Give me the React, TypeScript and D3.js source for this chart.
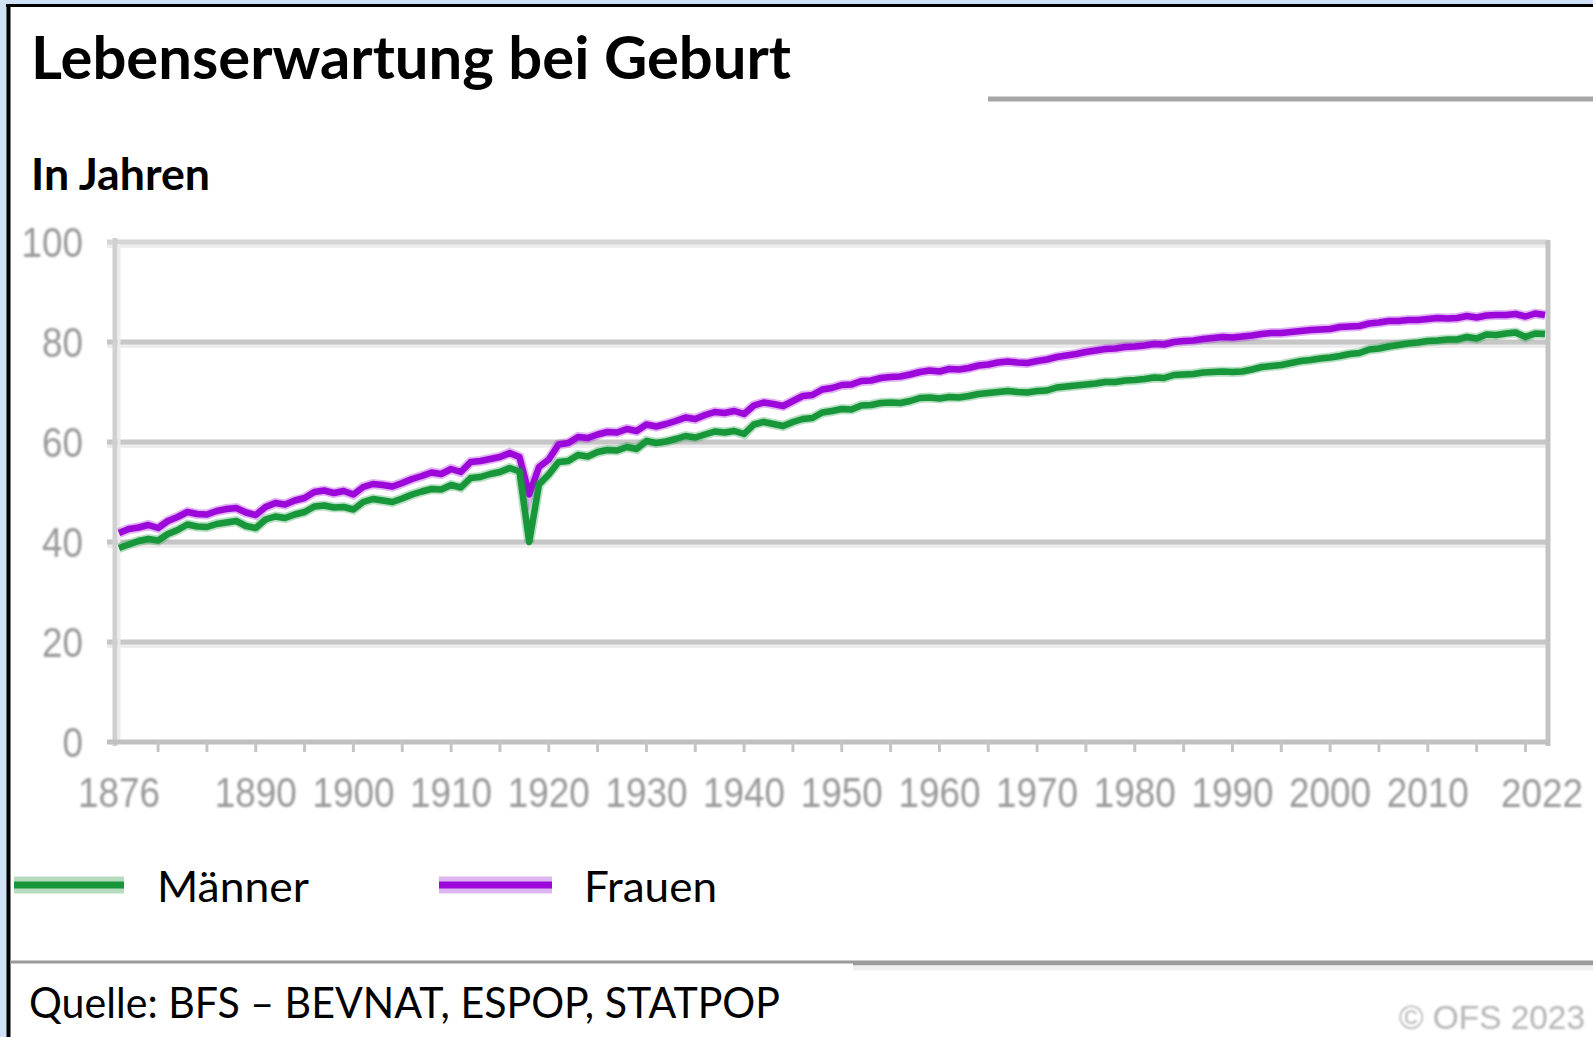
import React from 'react';
import * as d3 from 'd3';

const W = 1593;
const H = 1037;

// Lebenserwartung bei Geburt, Schweiz, 1876–2022
const firstYear = 1876;
const maenner = [
  38.8, 39.5, 40.2, 40.6, 40.3, 41.6, 42.4, 43.5, 43.1, 43.0,
  43.6, 43.9, 44.2, 43.2, 42.8, 44.5, 45.1, 44.8, 45.5, 46.0,
  47.1, 47.3, 46.9, 47.0, 46.5, 48.0, 48.6, 48.3, 48.0, 48.7,
  49.5, 50.1, 50.6, 50.5, 51.4, 50.9, 52.8, 53.0, 53.6, 54.0,
  54.8, 54.1, 40.0, 51.5, 53.5, 56.0, 56.2, 57.4, 57.1, 58.0,
  58.4, 58.3, 59.0, 58.6, 60.2, 59.8, 60.1, 60.6, 61.2, 60.9,
  61.5, 62.1, 61.9, 62.2, 61.6, 63.5, 64.0, 63.6, 63.2, 64.0,
  64.6, 64.8, 65.9, 66.2, 66.6, 66.5, 67.3, 67.4, 67.8, 67.9,
  67.8, 68.2, 68.8, 68.9, 68.7, 69.0, 68.9, 69.2, 69.6, 69.8,
  70.0, 70.2, 70.0, 69.9, 70.2, 70.3, 70.9, 71.1, 71.3, 71.5,
  71.7, 72.0, 72.0, 72.3, 72.4, 72.6, 72.9, 72.8, 73.4, 73.5,
  73.6, 73.9, 74.0, 74.1, 74.0, 74.1, 74.5, 75.0, 75.2, 75.4,
  75.8, 76.2, 76.4, 76.7, 76.9, 77.2, 77.6, 77.8, 78.5, 78.7,
  79.1, 79.4, 79.7, 79.9, 80.2, 80.3, 80.5, 80.5, 81.0, 80.7,
  81.5, 81.4, 81.7, 81.9, 81.0, 81.7, 81.6,
];
const frauen = [
  41.8, 42.6, 42.9, 43.4, 42.8, 44.2, 45.0, 46.0, 45.6, 45.5,
  46.2, 46.6, 46.8, 45.9, 45.4, 47.0, 47.8, 47.5, 48.3, 48.8,
  50.0, 50.3, 49.8, 50.2, 49.5, 51.0, 51.6, 51.4, 51.1, 51.8,
  52.6, 53.2, 53.9, 53.6, 54.6, 54.0, 56.0, 56.2, 56.6, 57.0,
  57.8, 57.0, 49.5, 55.0, 56.5, 59.5, 59.8, 61.0, 60.8, 61.5,
  62.0, 61.9, 62.6, 62.2, 63.5, 63.1, 63.6, 64.2, 64.9, 64.6,
  65.4, 66.0, 65.8, 66.2, 65.6, 67.3, 67.9, 67.6, 67.2, 68.2,
  69.2, 69.4, 70.5, 70.8, 71.4, 71.5, 72.2, 72.3, 72.8, 73.0,
  73.1, 73.5, 74.0, 74.3, 74.1, 74.6, 74.5, 74.8, 75.3, 75.5,
  75.9, 76.1, 75.9, 75.8, 76.2, 76.5, 77.0, 77.3, 77.6, 78.0,
  78.3, 78.6, 78.7, 79.0, 79.1, 79.3, 79.6, 79.5, 80.0, 80.2,
  80.3, 80.6, 80.8, 81.0, 80.9, 81.1, 81.3, 81.6, 81.8, 81.8,
  82.0, 82.2, 82.4, 82.5, 82.6, 83.0, 83.1, 83.2, 83.7, 83.9,
  84.2, 84.2, 84.4, 84.4, 84.6, 84.8, 84.7, 84.8, 85.2, 84.9,
  85.3, 85.4, 85.4, 85.6, 85.1, 85.7, 85.4,
];

const yTicks = [0, 20, 40, 60, 80, 100];
const xLabels = [1876, 1890, 1900, 1910, 1920, 1930, 1940, 1950, 1960, 1970, 1980, 1990, 2000, 2010, 2022];
const xMinor = d3.range(1880, 2021, 5);

const GREEN = '#17963a';
const PURPLE = '#9b08d9';
const labelFont = '"Liberation Sans", Arial, sans-serif';
const textFont = 'Lato, "Open Sans", sans-serif';
const digitW = 20.5; // narrow digits of the source chart

export default function App() {
  const x = d3.scaleLinear().domain([1876, 2022]).range([119, 1545]);
  const y = d3.scaleLinear().domain([0, 100]).range([742, 242]);

  const line = d3.line<number>()
    .x((_, i) => x(firstYear + i))
    .y(d => y(d));

  // keep the last year label inside the picture
  const labelX = (t: number) => Math.min(x(t), W - 10 - (String(t).length * digitW) / 2);

  return (
    <svg width={W} height={H} style={{ position: 'absolute', left: 0, top: 0, display: 'block' }}>
      <defs>
        <filter id="soft" x="-10%" y="-10%" width="120%" height="120%">
          <feGaussianBlur stdDeviation="0.8" />
        </filter>
      </defs>
      {/* slide frame */}
      <rect x={0} y={0} width={W} height={H} fill="#cfe2f5" />
      <rect x={10} y={7} width={W} height={H} fill="#fff" />
      <line x1={8.5} x2={8.5} y1={4} y2={H} stroke="#000" strokeWidth={4} />
      <line x1={6} x2={W} y1={5.5} y2={5.5} stroke="#000" strokeWidth={3} />

      <text x={31} y={79} fontFamily={textFont} fontWeight={700} fontSize={60}
        textLength={760} lengthAdjust="spacingAndGlyphs">Lebenserwartung bei Geburt</text>
      <line x1={988} x2={W} y1={99} y2={99} stroke="#a6a6a6" strokeWidth={5} />
      <text x={31} y={190} fontFamily={textFont} fontWeight={700} fontSize={43}
        textLength={179} lengthAdjust="spacingAndGlyphs">In Jahren</text>

      {/* grid */}
      {yTicks.filter(t => t > 0).map(t => (
        <g key={t}>
          <line x1={107} x2={1548} y1={y(t) + 3} y2={y(t) + 3} stroke="#ededed" strokeWidth={6} />
          <line x1={107} x2={1548} y1={y(t)} y2={y(t)} stroke={t === 100 ? '#d6d6d6' : '#c6c6c6'} strokeWidth={5} />
        </g>
      ))}
      <line x1={115} x2={115} y1={238} y2={746} stroke="#d0d0d0" strokeWidth={5} />
      <line x1={119} x2={119} y1={244} y2={742} stroke="#ececec" strokeWidth={3} />
      <line x1={1548} x2={1548} y1={240} y2={746} stroke="#c4c4c4" strokeWidth={5} />
      <line x1={107} x2={1550} y1={y(0)} y2={y(0)} stroke="#c0c0c0" strokeWidth={5} />
      {xMinor.map(t => (
        <line key={t} x1={x(t)} x2={x(t)} y1={y(0)} y2={y(0) + 10} stroke="#c4c4c4" strokeWidth={3} />
      ))}

      {/* tick labels */}
      <g filter="url(#soft)" fill="#999" fontFamily={labelFont} fontSize={42}>
        {yTicks.map(t => (
          <text key={t} x={83} y={y(t)} dy="0.36em" textAnchor="end"
            textLength={String(t).length * digitW} lengthAdjust="spacingAndGlyphs">{t}</text>
        ))}
        {xLabels.map(t => (
          <text key={t} x={labelX(t)} y={807} textAnchor="middle" fontSize={t === 2022 ? 40 : 42}
            textLength={String(t).length * digitW} lengthAdjust="spacingAndGlyphs">{t}</text>
        ))}
      </g>

      {/* series */}
      <path d={line(frauen) ?? ''} fill="none" stroke={PURPLE} strokeOpacity={0.3} strokeWidth={10} />
      <path d={line(frauen) ?? ''} fill="none" stroke={PURPLE} strokeWidth={6.5} strokeLinejoin="round" />
      <path d={line(maenner) ?? ''} fill="none" stroke={GREEN} strokeOpacity={0.3} strokeWidth={10} />
      <path d={line(maenner) ?? ''} fill="none" stroke={GREEN} strokeWidth={6.5} strokeLinejoin="round" />

      {/* legend */}
      <line x1={14} x2={124} y1={885} y2={885} stroke="#b5dcbf" strokeWidth={17} />
      <line x1={14} x2={124} y1={885} y2={885} stroke={GREEN} strokeWidth={7} />
      <text x={157} y={902} fontFamily={textFont} fontSize={43} textLength={152} lengthAdjust="spacingAndGlyphs">Männer</text>
      <line x1={439} x2={552} y1={885} y2={885} stroke="#dcb5f0" strokeWidth={17} />
      <line x1={439} x2={552} y1={885} y2={885} stroke={PURPLE} strokeWidth={7} />
      <text x={584} y={902} fontFamily={textFont} fontSize={43} textLength={133} lengthAdjust="spacingAndGlyphs">Frauen</text>

      {/* footer */}
      <line x1={10} x2={853} y1={962} y2={962} stroke="#9a9a9a" strokeWidth={3} />
      <line x1={853} x2={W} y1={963} y2={963} stroke="#9a9a9a" strokeWidth={5} />
      <line x1={853} x2={W} y1={968} y2={968} stroke="#efefef" strokeWidth={5} />
      <text x={29} y={1018} fontFamily={textFont} fontSize={43} textLength={751} lengthAdjust="spacingAndGlyphs">
        Quelle: BFS – BEVNAT, ESPOP, STATPOP
      </text>
      <text x={1399} y={1029} filter="url(#soft)" fill="#b4b4b4" fontFamily={labelFont} fontSize={33}
        textLength={186} lengthAdjust="spacingAndGlyphs">© OFS 2023</text>
    </svg>
  );
}
